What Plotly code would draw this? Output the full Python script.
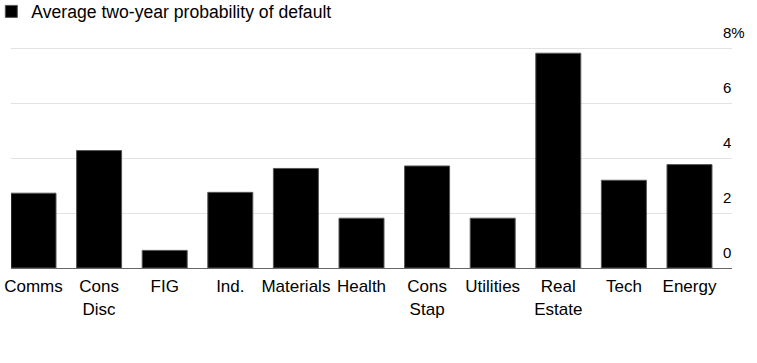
import plotly.graph_objects as go

categories = ["Comms", "Cons<br>Disc", "FIG", "Ind.", "Materials", "Health",
              "Cons<br>Stap", "Utilities", "Real<br>Estate", "Tech", "Energy"]
default_prob = [2.72, 4.27, 0.64, 2.75, 3.62, 1.81, 3.71, 1.81, 7.81, 3.19, 3.76]
series_name = "Average two-year probability of default"
y_tickvals = [0, 2, 4, 6, 8]
y_ticktext = ["0", "2", "4", "6", "8%"]

FONT = "Liberation Sans, Arial, Helvetica, sans-serif"

fig = go.Figure()
fig.add_trace(go.Bar(
    x=categories, y=default_prob, name=series_name,
    marker=dict(color="#000000", line=dict(color="#555555", width=1)),
    showlegend=True,
))

# y-axis tick labels: placed above each gridline, left-aligned near the right edge
for v, t in zip(y_tickvals, y_ticktext):
    fig.add_annotation(
        x=0.9861, xref="paper", y=v, yref="y",
        text=t, showarrow=False, xanchor="left", yanchor="bottom",
        yshift=6, borderpad=0,
        font=dict(family=FONT, size=15, color="#000000"),
    )

fig.update_layout(
    width=757, height=363,
    margin=dict(l=11, r=25, t=20, b=95, autoexpand=False),
    paper_bgcolor="white", plot_bgcolor="white",
    font=dict(family=FONT, size=16, color="#000000"),
    bargap=0.314,
    showlegend=True,
    legend=dict(x=-0.0273, y=1.107, xanchor="left", yanchor="top",
                xref="paper", yref="paper",
                font=dict(size=17.6, color="#000000"),
                bgcolor="rgba(0,0,0,0)", borderwidth=0),
    xaxis=dict(
        type="category",
        range=[-0.343, 10.648],
        showgrid=False, showline=True, linecolor="#666666", linewidth=1,
        ticks="", tickfont=dict(size=17, color="#000000"),
        ticklabelstandoff=3,
        fixedrange=True,
    ),
    yaxis=dict(
        side="right", range=[0, 9.018],
        tickvals=y_tickvals, showticklabels=False,
        showgrid=True, gridcolor="#e2e2e2", gridwidth=1,
        zeroline=False, showline=False, ticks="",
        fixedrange=True,
    ),
)

fig.write_html("out.html", config={"displayModeBar": False},
               post_script="document.body.style.margin='0px';")
